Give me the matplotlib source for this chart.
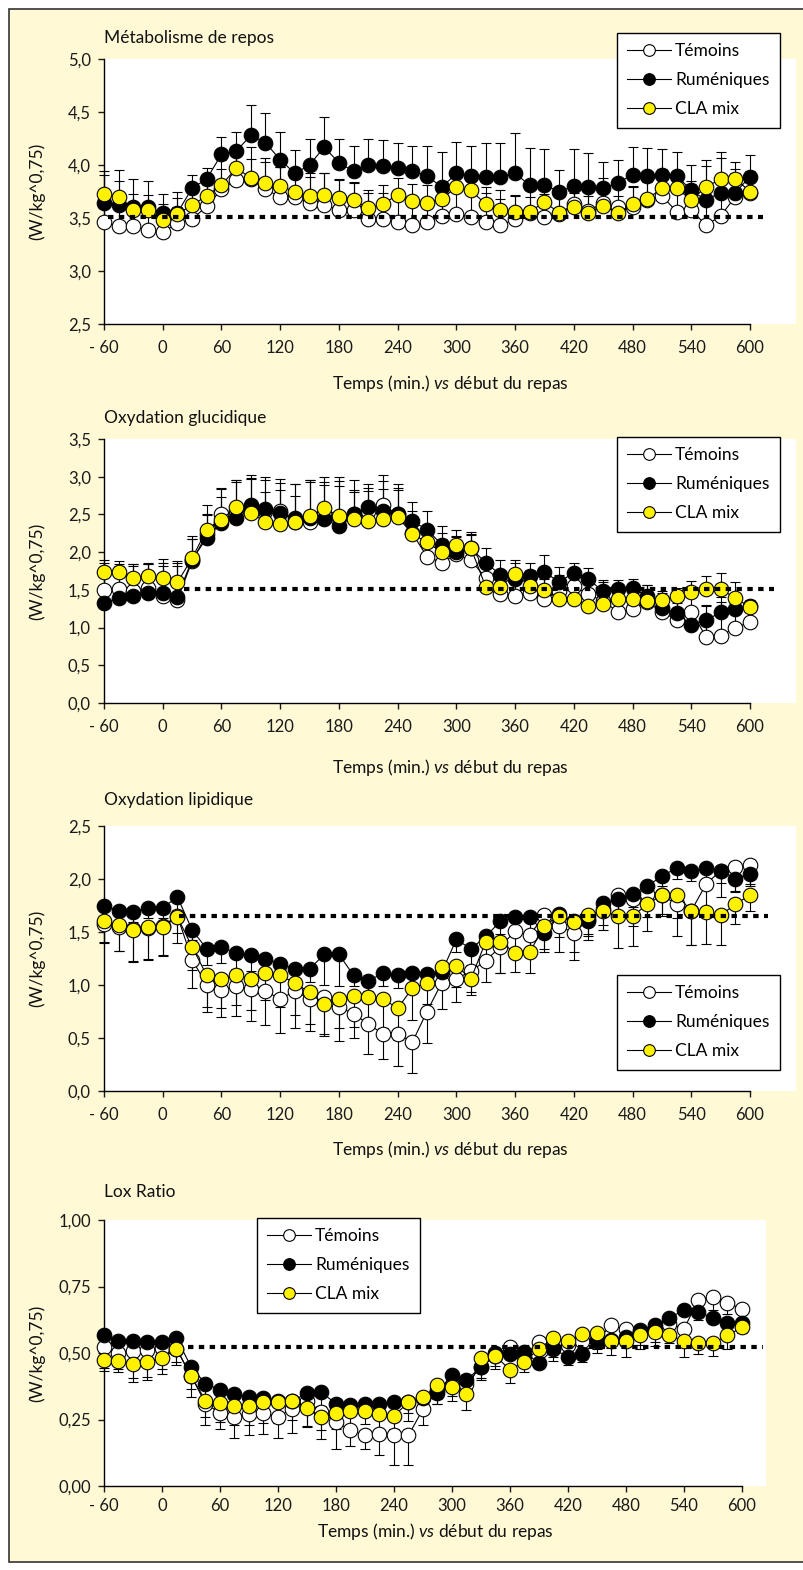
import numpy as np
import matplotlib
matplotlib.use('Agg')
import matplotlib.pyplot as plt
from matplotlib.patches import Rectangle
from matplotlib.ticker import FuncFormatter

plt.rcParams['font.family'] = ['Lato', 'DejaVu Sans']
plt.rcParams['mathtext.fontset'] = 'custom'
plt.rcParams['mathtext.rm'] = 'Lato'
plt.rcParams['mathtext.it'] = 'Lato:italic'

W, H = 804, 1570

temps = list(range(-60, 601, 15))
xticks = [-60, 0, 60, 120, 180, 240, 300, 360, 420, 480, 540, 600]
xticklabels = ['- 60', '0', '60', '120', '180', '240', '300', '360', '420', '480', '540', '600']
noms = ['Témoins', 'Ruméniques', 'CLA mix']
couleurs = ['white', 'black', '#FFF200']

# --- Métabolisme de repos
met_t = [3.46, 3.42, 3.42, 3.39, 3.37, 3.45, 3.49, 3.61, 3.77, 3.86, 3.87, 3.77, 3.70, 3.70, 3.64,
         3.62, 3.58, 3.58, 3.49, 3.49, 3.46, 3.43, 3.46, 3.52, 3.54, 3.51, 3.46, 3.43, 3.49, 3.55,
         3.51, 3.54, 3.63, 3.57, 3.64, 3.60, 3.60, 3.67, 3.71, 3.56, 3.58, 3.43, 3.52, 3.70, 3.74]
met_r = [3.64, 3.62, 3.60, 3.60, 3.55, 3.55, 3.78, 3.87, 4.10, 4.13, 4.28, 4.21, 4.05, 3.92, 4.00,
         4.17, 4.02, 3.94, 4.00, 3.99, 3.97, 3.94, 3.90, 3.79, 3.92, 3.90, 3.89, 3.89, 3.92, 3.81,
         3.81, 3.75, 3.80, 3.79, 3.78, 3.83, 3.91, 3.90, 3.91, 3.90, 3.76, 3.67, 3.74, 3.74, 3.89]
met_c = [3.73, 3.70, 3.58, 3.58, 3.48, 3.54, 3.62, 3.71, 3.81, 3.97, 3.88, 3.83, 3.80, 3.75, 3.71,
         3.72, 3.69, 3.67, 3.59, 3.63, 3.72, 3.66, 3.64, 3.68, 3.79, 3.76, 3.63, 3.58, 3.56, 3.56,
         3.65, 3.55, 3.60, 3.55, 3.61, 3.55, 3.63, 3.68, 3.78, 3.78, 3.67, 3.79, 3.87, 3.87, 3.75]
met_t_err = [0.20, 0.22, 0.20, 0.22, 0.22, 0.15, 0.15, 0.20, 0.28, 0.30, 0.30, 0.30, 0.28, 0.26, 0.28,
             0.30, 0.28, 0.25, 0.25, 0.25, 0.24, 0.23, 0.22, 0.20, 0.25, 0.25, 0.28, 0.25, 0.22, 0.24,
             0.22, 0.20, 0.22, 0.25, 0.24, 0.22, 0.20, 0.25, 0.22, 0.26, 0.24, 0.30, 0.30, 0.22, 0.20]
met_r_err = [0.30, 0.33, 0.27, 0.25, 0.18, 0.20, 0.13, 0.10, 0.16, 0.18, 0.29, 0.28, 0.26, 0.22, 0.25,
             0.28, 0.23, 0.24, 0.25, 0.25, 0.24, 0.24, 0.28, 0.33, 0.30, 0.28, 0.32, 0.32, 0.38, 0.35,
             0.34, 0.20, 0.35, 0.32, 0.25, 0.22, 0.26, 0.26, 0.24, 0.22, 0.24, 0.38, 0.38, 0.22, 0.20]
met_c_err = [0.18, 0.15, 0.15, 0.14, 0.15, 0.15, 0.12, 0.12, 0.15, 0.18, 0.18, 0.20, 0.18, 0.16, 0.18,
             0.20, 0.18, 0.17, 0.17, 0.18, 0.16, 0.16, 0.17, 0.16, 0.18, 0.16, 0.16, 0.18, 0.16, 0.14,
             0.16, 0.16, 0.14, 0.16, 0.14, 0.16, 0.16, 0.16, 0.18, 0.16, 0.18, 0.20, 0.20, 0.16, 0.14]

# --- Oxydation glucidique
glu_t = [1.50, 1.51, 1.49, 1.53, 1.42, 1.37, 1.88, 2.24, 2.50, 2.55, 2.60, 2.55, 2.55, 2.40, 2.40,
         2.50, 2.45, 2.50, 2.55, 2.62, 2.50, 2.25, 1.94, 1.86, 1.97, 1.89, 1.66, 1.44, 1.42, 1.46,
         1.38, 1.48, 1.55, 1.44, 1.35, 1.21, 1.24, 1.34, 1.21, 1.10, 1.21, 0.88, 0.89, 1.00, 1.07]
glu_r = [1.33, 1.39, 1.42, 1.46, 1.46, 1.41, 1.90, 2.19, 2.39, 2.45, 2.62, 2.57, 2.52, 2.45, 2.45,
         2.44, 2.34, 2.50, 2.60, 2.54, 2.50, 2.41, 2.30, 2.10, 2.00, 2.05, 1.86, 1.70, 1.65, 1.68,
         1.74, 1.60, 1.73, 1.64, 1.48, 1.51, 1.52, 1.42, 1.26, 1.19, 1.04, 1.10, 1.20, 1.24, 1.28]
glu_c = [1.74, 1.74, 1.66, 1.69, 1.66, 1.60, 1.92, 2.30, 2.43, 2.60, 2.52, 2.40, 2.37, 2.40, 2.48,
         2.58, 2.48, 2.44, 2.41, 2.44, 2.47, 2.24, 2.13, 2.00, 2.10, 2.05, 1.54, 1.54, 1.71, 1.55,
         1.50, 1.38, 1.38, 1.29, 1.31, 1.38, 1.38, 1.35, 1.36, 1.42, 1.47, 1.51, 1.51, 1.39, 1.27]
glu_t_err = [0.35, 0.33, 0.35, 0.32, 0.40, 0.45, 0.30, 0.38, 0.35, 0.40, 0.42, 0.40, 0.42, 0.50, 0.55,
             0.50, 0.55, 0.45, 0.30, 0.40, 0.40, 0.30, 0.40, 0.40, 0.32, 0.35, 0.25, 0.28, 0.28, 0.30,
             0.32, 0.22, 0.20, 0.25, 0.25, 0.35, 0.28, 0.22, 0.25, 0.28, 0.20, 0.40, 0.45, 0.35, 0.20]
glu_r_err = [0.40, 0.42, 0.40, 0.38, 0.40, 0.45, 0.32, 0.30, 0.45, 0.48, 0.36, 0.42, 0.40, 0.45, 0.50,
             0.45, 0.60, 0.30, 0.30, 0.40, 0.35, 0.25, 0.25, 0.25, 0.20, 0.22, 0.20, 0.20, 0.25, 0.18,
             0.22, 0.20, 0.12, 0.15, 0.15, 0.12, 0.12, 0.15, 0.15, 0.14, 0.15, 0.20, 0.20, 0.12, 0.08]
glu_c_err = [0.16, 0.14, 0.18, 0.15, 0.25, 0.28, 0.25, 0.20, 0.30, 0.35, 0.45, 0.40, 0.45, 0.35, 0.45,
             0.35, 0.40, 0.38, 0.40, 0.40, 0.35, 0.20, 0.20, 0.18, 0.12, 0.18, 0.18, 0.15, 0.15, 0.12,
             0.15, 0.20, 0.15, 0.18, 0.12, 0.12, 0.12, 0.10, 0.12, 0.10, 0.15, 0.18, 0.22, 0.22, 0.08]

# --- Oxydation lipidique
lip_t = [1.58, 1.55, 1.53, 1.54, 1.56, 1.65, 1.24, 1.00, 0.95, 0.99, 0.96, 0.94, 0.87, 0.94, 0.87,
         0.89, 0.79, 0.73, 0.63, 0.54, 0.54, 0.46, 0.75, 1.02, 1.06, 1.13, 1.23, 1.36, 1.51, 1.47,
         1.66, 1.56, 1.49, 1.62, 1.72, 1.85, 1.81, 1.86, 1.85, 1.76, 1.70, 1.95, 2.08, 2.11, 2.13]
lip_r = [1.75, 1.70, 1.69, 1.73, 1.73, 1.83, 1.52, 1.34, 1.36, 1.30, 1.28, 1.25, 1.20, 1.15, 1.15,
         1.29, 1.29, 1.09, 1.04, 1.11, 1.09, 1.11, 1.10, 1.12, 1.43, 1.34, 1.46, 1.60, 1.64, 1.64,
         1.49, 1.67, 1.60, 1.60, 1.77, 1.81, 1.86, 1.93, 2.03, 2.10, 2.08, 2.10, 2.08, 2.00, 2.05]
lip_c = [1.60, 1.57, 1.52, 1.55, 1.55, 1.64, 1.36, 1.09, 1.06, 1.09, 1.06, 1.11, 1.09, 1.02, 0.93,
         0.82, 0.87, 0.90, 0.89, 0.87, 0.78, 0.97, 1.02, 1.17, 1.18, 1.06, 1.41, 1.41, 1.30, 1.31,
         1.56, 1.65, 1.59, 1.66, 1.70, 1.65, 1.65, 1.76, 1.85, 1.85, 1.70, 1.69, 1.66, 1.76, 1.85]
lip_t_err = [0.17, 0.23, 0.30, 0.30, 0.28, 0.25, 0.27, 0.25, 0.25, 0.28, 0.30, 0.32, 0.32, 0.35, 0.30,
             0.35, 0.32, 0.23, 0.28, 0.24, 0.30, 0.29, 0.30, 0.25, 0.22, 0.20, 0.20, 0.25, 0.22, 0.20,
             0.22, 0.25, 0.25, 0.20, 0.15, 0.22, 0.25, 0.22, 0.18, 0.30, 0.32, 0.30, 0.25, 0.22, 0.20]
lip_r_err = [0.10, 0.10, 0.10, 0.10, 0.10, 0.12, 0.10, 0.15, 0.15, 0.15, 0.15, 0.15, 0.15, 0.12, 0.12,
             0.29, 0.30, 0.10, 0.10, 0.12, 0.12, 0.12, 0.12, 0.10, 0.12, 0.15, 0.10, 0.12, 0.12, 0.12,
             0.15, 0.10, 0.12, 0.12, 0.10, 0.12, 0.12, 0.12, 0.10, 0.10, 0.10, 0.12, 0.12, 0.12, 0.10]
lip_c_err = [0.20, 0.25, 0.30, 0.30, 0.28, 0.15, 0.22, 0.30, 0.28, 0.28, 0.30, 0.25, 0.30, 0.30, 0.30,
             0.30, 0.28, 0.30, 0.30, 0.28, 0.30, 0.30, 0.20, 0.18, 0.20, 0.15, 0.20, 0.30, 0.18, 0.20,
             0.25, 0.20, 0.28, 0.20, 0.18, 0.30, 0.28, 0.25, 0.20, 0.22, 0.32, 0.30, 0.28, 0.18, 0.15]

# --- Lox Ratio
lox_t = [0.522, 0.500, 0.506, 0.510, 0.520, 0.516, 0.415, 0.310, 0.274, 0.259, 0.272, 0.274, 0.261, 0.290, 0.320,
         0.277, 0.240, 0.211, 0.190, 0.197, 0.190, 0.190, 0.290, 0.360, 0.378, 0.384, 0.447, 0.490, 0.524, 0.490,
         0.541, 0.520, 0.530, 0.545, 0.550, 0.604, 0.591, 0.580, 0.590, 0.610, 0.591, 0.700, 0.712, 0.687, 0.666]
lox_r = [0.568, 0.544, 0.544, 0.540, 0.540, 0.556, 0.449, 0.384, 0.362, 0.347, 0.334, 0.330, 0.320, 0.320, 0.349,
         0.352, 0.309, 0.305, 0.307, 0.307, 0.315, 0.315, 0.330, 0.350, 0.419, 0.399, 0.447, 0.500, 0.497, 0.503,
         0.462, 0.516, 0.484, 0.497, 0.544, 0.550, 0.560, 0.587, 0.607, 0.632, 0.662, 0.654, 0.632, 0.613, 0.613]
lox_c = [0.472, 0.470, 0.460, 0.467, 0.480, 0.516, 0.413, 0.321, 0.311, 0.300, 0.300, 0.315, 0.315, 0.318, 0.294,
         0.259, 0.274, 0.282, 0.282, 0.270, 0.264, 0.315, 0.334, 0.378, 0.371, 0.346, 0.482, 0.488, 0.437, 0.468,
         0.516, 0.556, 0.544, 0.570, 0.574, 0.544, 0.544, 0.566, 0.578, 0.566, 0.544, 0.537, 0.537, 0.566, 0.597]
lox_t_err = [0.08, 0.06, 0.10, 0.10, 0.08, 0.06, 0.08, 0.08, 0.06, 0.08, 0.08, 0.08, 0.08, 0.09, 0.10,
             0.10, 0.10, 0.06, 0.05, 0.08, 0.11, 0.11, 0.06, 0.05, 0.04, 0.05, 0.05, 0.04, 0.04, 0.04,
             0.04, 0.05, 0.04, 0.04, 0.05, 0.05, 0.05, 0.05, 0.05, 0.04, 0.05, 0.04, 0.05, 0.04, 0.04]
lox_r_err = [0.04, 0.03, 0.03, 0.03, 0.03, 0.03, 0.04, 0.05, 0.04, 0.04, 0.04, 0.04, 0.04, 0.05, 0.05,
             0.05, 0.04, 0.04, 0.04, 0.04, 0.04, 0.04, 0.04, 0.04, 0.03, 0.03, 0.04, 0.03, 0.02, 0.02,
             0.02, 0.03, 0.03, 0.03, 0.03, 0.03, 0.03, 0.02, 0.03, 0.03, 0.02, 0.03, 0.02, 0.02, 0.02]
lox_c_err = [0.04, 0.04, 0.07, 0.07, 0.06, 0.05, 0.05, 0.06, 0.07, 0.07, 0.07, 0.08, 0.08, 0.07, 0.07,
             0.05, 0.06, 0.06, 0.05, 0.06, 0.05, 0.07, 0.06, 0.05, 0.05, 0.06, 0.05, 0.05, 0.05, 0.04,
             0.05, 0.06, 0.05, 0.05, 0.03, 0.05, 0.06, 0.05, 0.05, 0.03, 0.06, 0.04, 0.05, 0.05, 0.02]

titres = ['Métabolisme de repos', 'Oxydation glucidique', 'Oxydation lipidique', 'Lox Ratio']
yticks = [[2.5, 3.0, 3.5, 4.0, 4.5, 5.0], [0, 0.5, 1.0, 1.5, 2.0, 2.5, 3.0, 3.5],
          [0, 0.5, 1.0, 1.5, 2.0, 2.5], [0, 0.25, 0.5, 0.75, 1.0]]
ydecimales = [1, 1, 1, 2]
references = [3.51, 1.515, 1.655, 0.522]
ref_debut = [-56, 22, 17, 27]
ref_fin = [613, 625, 618, 622]
erreur_haut = [True, True, False, False]
donnees = [
    ([met_t, met_r, met_c], [met_t_err, met_r_err, met_c_err]),
    ([glu_t, glu_r, glu_c], [glu_t_err, glu_r_err, glu_c_err]),
    ([lip_t, lip_r, lip_c], [lip_t_err, lip_r_err, lip_c_err]),
    ([lox_t, lox_r, lox_c], [lox_t_err, lox_r_err, lox_c_err]),
]

# placement (pixels): plot top, bottom, right of white area, x of the 600 tick
zones = [(59, 324, 796, 750), (439, 703, 796, 750), (826, 1091, 796, 750), (1220, 1486, 766, 742)]
titre_y = [38, 418, 800, 1192]
xlab_y = [384, 767, 1150, 1531]
legende_pos = [(617, 33), (617, 437), (617, 975), (257, 1218)]
X0 = 104


def fx(px):
    return px / W


def fy(py):
    return 1 - py / H


fig = plt.figure(figsize=(W / 100, H / 100), dpi=100, facecolor='white')
fig.patches.append(Rectangle((fx(9), fy(1562)), fx(820) - fx(9), fy(9) - fy(1562),
                             transform=fig.transFigure, facecolor='#FFF9D6',
                             edgecolor='#333333', linewidth=1.2, zorder=-10))

for p in range(4):
    top, bot, right, x600 = zones[p]
    ax = fig.add_axes([fx(X0), fy(bot), (right - X0) / W, (bot - top) / H])
    ax.set_facecolor('white')
    scale = (x600 - X0) / 660.0
    ax.set_xlim(-60, -60 + (right - X0) / scale)
    ax.set_ylim(yticks[p][0], yticks[p][-1])
    for s in ['top', 'right']:
        ax.spines[s].set_visible(False)
    for s in ['left', 'bottom']:
        ax.spines[s].set_linewidth(1.0)
        ax.spines[s].set_color('black')
    ax.spines['bottom'].set_bounds(-60, 600)
    ax.set_xticks(xticks)
    ax.set_xticklabels(xticklabels)
    ax.set_yticks(yticks[p])
    d = ydecimales[p]
    ax.yaxis.set_major_formatter(FuncFormatter(lambda v, pos, d=d: ('%.*f' % (d, v)).replace('.', ',')))
    ax.tick_params(axis='both', direction='out', length=4.5, width=1.0, labelsize=12,
                   colors='#1a1a1a')
    ax.tick_params(axis='x', pad=7 if p < 3 else 4)
    ax.tick_params(axis='y', pad=5)

    vals, errs = donnees[p]
    lignes = []
    for k in range(3):
        e = np.array(errs[k])
        z = np.zeros_like(e)
        yerr = [z, e] if erreur_haut[p] else [e, z]
        ax.errorbar(temps, vals[k], yerr=yerr, fmt='none', ecolor='black', elinewidth=0.8,
                    capsize=3.5, capthick=0.8, zorder=2, clip_on=False)
    for k in range(3):
        l, = ax.plot(temps, vals[k], '-o', color='black', lw=0.8, ms=10.5, mfc=couleurs[k],
                     mec='black', mew=0.8, zorder=3 + k, clip_on=False, label=noms[k])
        lignes.append(l)
    ax.plot([ref_debut[p], ref_fin[p]], [references[p], references[p]], color='black', lw=3.0,
            dashes=(1.3, 1.3), dash_capstyle='butt', zorder=10, clip_on=False)

    lx, ly = legende_pos[p]
    leg = ax.legend(lignes, noms, loc='upper left', bbox_to_anchor=(fx(lx), fy(ly)),
                    bbox_transform=fig.transFigure, frameon=True, fancybox=False,
                    edgecolor='black', framealpha=1, borderpad=0.6, labelspacing=0.75,
                    handlelength=2.5, handletextpad=0.25, markerscale=0.8, fontsize=12.5,
                    borderaxespad=0)
    leg.get_frame().set_linewidth(1.0)
    leg.set_zorder(20)

    fig.text(fx(X0), fy(titre_y[p]), titres[p], fontsize=12.5, va='center', ha='left', color='#111111')
    fig.text(fx(37), fy((top + bot) / 2), '(W/kg^0,75)', fontsize=12.5, rotation=90,
             va='center', ha='center', color='#111111')
    fig.text(fx((X0 + right) / 2), fy(xlab_y[p]), r'Temps (min.) $\mathit{vs}$ début du repas',
             fontsize=12.5, va='center', ha='center', color='#111111')

fig.savefig('out.png', dpi=100, facecolor=fig.get_facecolor())
